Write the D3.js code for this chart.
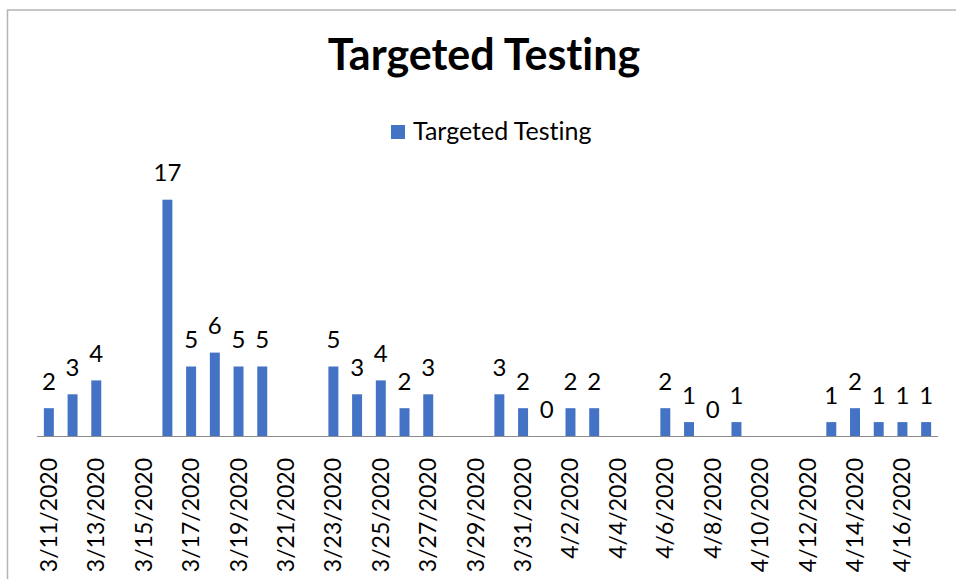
<!DOCTYPE html>
<html>
<head>
<meta charset="utf-8">
<script src="https://cdn.jsdelivr.net/npm/d3@7"></script>
<style>
  html, body { margin: 0; padding: 0; background: #ffffff; }
  svg { display: block; }
  text { font-family: Lato, "Open Sans", sans-serif; fill: #000; font-variant-ligatures: none; }
</style>
</head>
<body>
<svg id="chart" width="956" height="579"></svg>
<script>
// ---- data ----
const categories = [
  "3/11/2020","3/12/2020","3/13/2020","3/14/2020","3/15/2020","3/16/2020","3/17/2020",
  "3/18/2020","3/19/2020","3/20/2020","3/21/2020","3/22/2020","3/23/2020","3/24/2020",
  "3/25/2020","3/26/2020","3/27/2020","3/28/2020","3/29/2020","3/30/2020","3/31/2020",
  "4/1/2020","4/2/2020","4/3/2020","4/4/2020","4/5/2020","4/6/2020","4/7/2020",
  "4/8/2020","4/9/2020","4/10/2020","4/11/2020","4/12/2020","4/13/2020","4/14/2020",
  "4/15/2020","4/16/2020","4/17/2020"
];
const targetedTesting = [
  2, 3, 4, null, null, 17, 5,
  6, 5, 5, null, null, 5, 3,
  4, 2, 3, null, null, 3, 2,
  0, 2, 2, null, null, 2, 1,
  0, 1, null, null, null, 1, 2,
  1, 1, 1
];
const tickLabels = categories.filter((d, i) => i % 2 === 0);
const seriesName = "Targeted Testing";
const titleText = "Targeted Testing";

// ---- layout ----
const svg = d3.select("#chart");
const plot = { left: 37, right: 938, top: 186, bottom: 436 };
const barColor = "#4472C4";

// chart border
svg.append("rect")
  .attr("x", 7.5).attr("y", 10).attr("width", 1000).attr("height", 1000)
  .attr("fill", "none").attr("stroke", "#b4b4b4").attr("stroke-width", 1.5);

const x = d3.scaleBand()
  .domain(categories)
  .range([plot.left, plot.right])
  .paddingInner(0.58)
  .paddingOuter(0.29);

const y = d3.scaleLinear()
  .domain([0, 18])
  .range([plot.bottom, plot.bottom - 18 * 13.9]);

const data = categories.map((c, i) => ({ c, v: targetedTesting[i] }));

// bars
svg.append("g").selectAll("rect")
  .data(data.filter(d => d.v !== null))
  .join("rect")
  .attr("x", d => x(d.c))
  .attr("width", x.bandwidth())
  .attr("y", d => y(d.v))
  .attr("height", d => y(0) - y(d.v))
  .attr("fill", barColor);

// x axis
const xAxis = d3.axisBottom(x)
  .tickValues(tickLabels)
  .tickSize(0)
  .tickPadding(0);

const gx = svg.append("g")
  .attr("transform", `translate(0,${plot.bottom})`)
  .call(xAxis);
gx.select(".domain")
  .attr("stroke", "#8c8c8c")
  .attr("stroke-width", 1.2)
  .attr("d", `M${plot.left},0.5H${plot.right}`);
gx.selectAll(".tick text")
  .attr("font-family", "Lato, 'Open Sans', sans-serif")
  .attr("font-size", 23)
  .attr("fill", "#000")
  .attr("text-anchor", "end")
  .attr("dy", null)
  .attr("y", null)
  .attr("transform", "translate(8,22) rotate(-90)");

// data labels
svg.append("g").selectAll("text")
  .data(data.filter(d => d.v !== null))
  .join("text")
  .attr("x", d => x(d.c) + x.bandwidth() / 2)
  .attr("y", d => y(d.v) - 18.5)
  .attr("text-anchor", "middle")
  .attr("font-size", 24)
  .text(d => d.v);

// title
svg.append("text")
  .attr("x", 484).attr("y", 70)
  .attr("text-anchor", "middle")
  .attr("font-size", 43)
  .attr("font-weight", "bold")
  .text(titleText);

// legend
const lg = svg.append("g").attr("transform", "translate(391,125)");
lg.append("rect").attr("width", 14).attr("height", 14).attr("fill", barColor);
lg.append("text").attr("x", 22).attr("y", 14.5)
  .attr("font-size", 25)
  .text(seriesName);
</script>
</body>
</html>
